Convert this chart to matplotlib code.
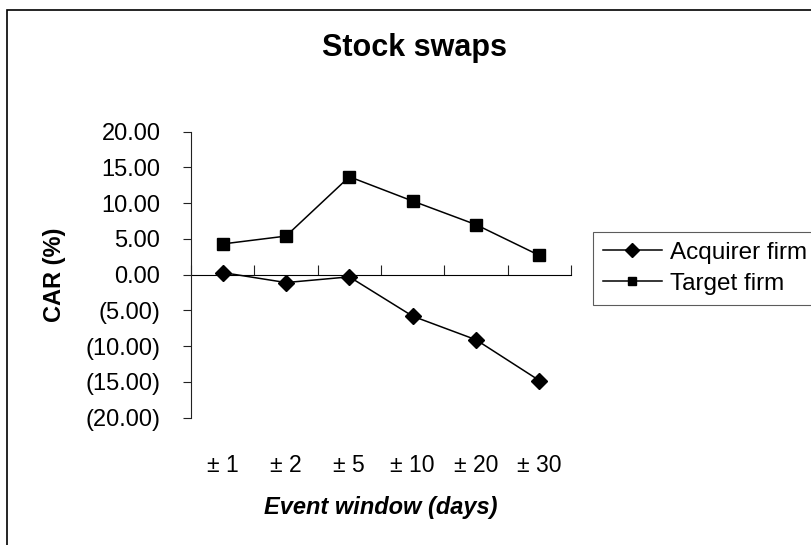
import numpy as np
import matplotlib
matplotlib.use("Agg")
import matplotlib.pyplot as plt
from matplotlib.patches import Rectangle
from matplotlib.ticker import FuncFormatter

plt.rcParams['font.family'] = ['Liberation Sans', 'DejaVu Sans']

# event windows and cumulative abnormal returns (%)
windows = ['± 1', '± 2', '± 5', '± 10', '± 20', '± 30']
acquirer = [0.3, -1.1, -0.3, -5.8, -9.1, -14.8]
target = [4.3, 5.4, 13.7, 10.3, 7.0, 2.7]
y_ticks = [-20, -15, -10, -5, 0, 5, 10, 15, 20]


def paren_fmt(v, pos):
    if v < 0:
        return '({:.2f})'.format(-v)
    return '{:.2f}'.format(v)


fig = plt.figure(figsize=(8.11, 5.45), dpi=100)
ax = fig.add_axes([191 / 811, 1 - 417.7 / 545, 380 / 811, 286 / 545])

x = np.arange(len(windows)) + 0.5
ax.plot(x, acquirer, '-', color='black', lw=1.1, marker='D', ms=8.5,
        label='Acquirer firm')
ax.plot(x, target, '-', color='black', lw=1.1, marker='s', ms=8,
        label='Target firm')

ax.set_xlim(0, len(windows))
ax.set_ylim(-20, 20)

# y axis with accounting-style negatives
ax.set_yticks(y_ticks)
ax.yaxis.set_major_formatter(FuncFormatter(paren_fmt))
ax.tick_params(axis='y', direction='out', length=6, width=0.8,
               labelsize=17, pad=16, color='#222222')

# category labels along the bottom, axis line itself sits at zero
ax.set_xticks(x)
ax.set_xticklabels(windows)
ax.tick_params(axis='x', length=0, labelsize=16.5, pad=26)
for side in ['top', 'right', 'bottom']:
    ax.spines[side].set_visible(False)
ax.spines['left'].set_linewidth(0.8)
ax.spines['left'].set_color('#222222')

zero_axis = ax.secondary_xaxis(0.5)
zero_axis.set_xticks(np.arange(len(windows) + 1))
zero_axis.set_xticklabels([])
zero_axis.tick_params(direction='out', length=7, width=0.8, color='#222222')
zero_axis.spines['bottom'].set_linewidth(0.8)
zero_axis.spines['bottom'].set_color('#222222')

ax.set_ylabel('CAR (%)', fontsize=17, fontweight='bold', labelpad=14)
ax.set_xlabel('Event window (days)', fontsize=17, fontweight='bold',
              style='italic', labelpad=14)

fig.text(415 / 811, 1 - 48 / 545, 'Stock swaps', fontsize=22,
         fontweight='bold', ha='center', va='center')

leg = fig.legend(loc='upper left', bbox_to_anchor=(593 / 811, 1 - 231.5 / 545),
                 fontsize=17.5, frameon=True, fancybox=False,
                 handlelength=2.4, handletextpad=0.35, borderpad=0.42,
                 labelspacing=0.38, borderaxespad=0, markerscale=0.8)
leg.get_frame().set_edgecolor('#333333')
leg.get_frame().set_linewidth(0.8)

# outer chart frame, right and bottom edges run off the canvas
fig.patches.append(Rectangle((7 / 811, -0.1), 1.2, 1 - 10 / 545 + 0.1,
                             transform=fig.transFigure, fill=False,
                             edgecolor='black', linewidth=1.2))

fig.savefig('out.png', dpi=100)
